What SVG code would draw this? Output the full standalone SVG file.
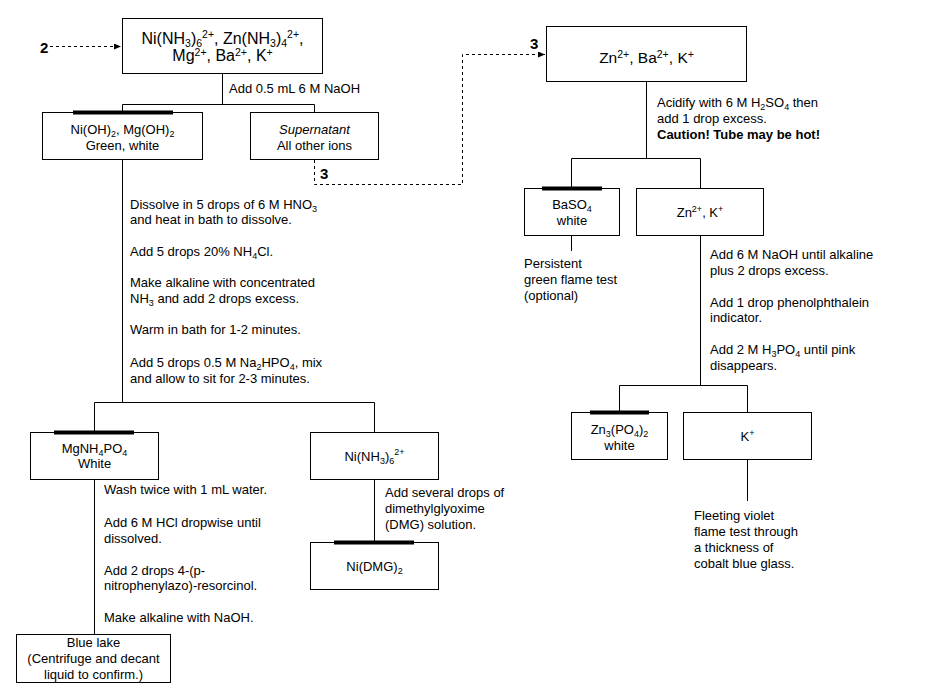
<svg xmlns="http://www.w3.org/2000/svg" width="939" height="699" viewBox="0 0 939 699">
<style>
text{font-family:"Liberation Sans",Arial,sans-serif;font-size:13px;fill:#000}
.big{font-size:16px}
.big2{font-size:15.5px}
.m{text-anchor:middle}
.s{font-size:9px}
.bs{font-size:10.5px}
.lbl{font-size:15px;font-weight:bold}
.box{fill:#fff;stroke:#000;stroke-width:1}
.bar{fill:#000}
.ln{fill:none;stroke:#000;stroke-width:1}
.dash{fill:none;stroke:#000;stroke-width:1;stroke-dasharray:3,3}
</style>
<defs>
<marker id="ah" markerWidth="7" markerHeight="6" refX="7" refY="3" orient="auto" markerUnits="userSpaceOnUse">
<path d="M0,0 L7,3 L0,6 z" fill="#000"/>
</marker>
</defs>
<rect width="939" height="699" fill="#fff"/>

<g id="connectors">
<path class="dash" d="M50,46.5 H121" marker-end="url(#ah)"/>
<path class="dash" d="M314.5,160 V184.5 H462.5 V54.5 H545" marker-end="url(#ah)"/>
<path class="ln" d="M222.5,74 V104.5 M122.5,112 V104.5 H314.5 V112"/>
<path class="ln" d="M122.5,160 V402.5 M94.5,432 V402.5 H374.5 V432"/>
<path class="ln" d="M94.5,479 V634"/>
<path class="ln" d="M374.5,479 V542"/>
<path class="ln" d="M646.5,82 V158.5 M571.5,188 V158.5 H700.5 V188"/>
<path class="ln" d="M571.5,236 V251"/>
<path class="ln" d="M700.5,236 V385.5 M619.5,412 V385.5 H747.5 V412"/>
<path class="ln" d="M747.5,460 V501"/>
</g>

<g id="label-2"><text x="40" y="52.5" class="lbl">2</text></g>
<g id="label-3a"><text x="320" y="179" class="lbl">3</text></g>
<g id="label-3b"><text x="530" y="49" class="lbl">3</text></g>

<g id="n-start">
<rect class="box" x="122.5" y="18.5" width="200" height="55"/>
<text x="222.5" y="44" class="big m">Ni(NH<tspan class="bs" dy="3">3</tspan><tspan dy="-3">)</tspan><tspan class="bs" dy="3">6</tspan><tspan class="bs" dy="-9">2+</tspan><tspan dy="6">, Zn(NH</tspan><tspan class="bs" dy="3">3</tspan><tspan dy="-3">)</tspan><tspan class="bs" dy="3">4</tspan><tspan class="bs" dy="-9">2+</tspan><tspan dy="6">,</tspan></text>
<text x="222.5" y="61" class="big m">Mg<tspan class="bs" dy="-5">2+</tspan><tspan dy="5">, Ba</tspan><tspan class="bs" dy="-5">2+</tspan><tspan dy="5">, K</tspan><tspan class="bs" dy="-5">+</tspan></text>
</g>
<text x="229" y="93">Add 0.5 mL 6 M NaOH</text>

<g id="n-hydroxides">
<rect class="box" x="42.5" y="112.5" width="160" height="47"/>
<rect class="bar" x="73" y="110.5" width="100" height="4"/>
<text x="122.5" y="134" class="m">Ni(OH)<tspan class="s" dy="3">2</tspan><tspan dy="-3">, Mg(OH)</tspan><tspan class="s" dy="3">2</tspan></text>
<text x="122.5" y="150" class="m">Green, white</text>
</g>

<g id="n-supernatant">
<rect class="box" x="250.5" y="112.5" width="128" height="47"/>
<text x="314.5" y="134" class="m" font-style="italic">Supernatant</text>
<text x="314.5" y="150" class="m">All other ions</text>
</g>

<g id="steps-left">
<text x="130" y="209">Dissolve in 5 drops of 6 M HNO<tspan class="s" dy="3">3</tspan></text>
<text x="130" y="224">and heat in bath to dissolve.</text>
<text x="130" y="256">Add 5 drops 20% NH<tspan class="s" dy="3">4</tspan><tspan dy="-3">Cl.</tspan></text>
<text x="130" y="287">Make alkaline with concentrated</text>
<text x="130" y="303">NH<tspan class="s" dy="3">3</tspan><tspan dy="-3"> and add 2 drops excess.</tspan></text>
<text x="130" y="334">Warm in bath for 1-2 minutes.</text>
<text x="130" y="367">Add 5 drops 0.5 M Na<tspan class="s" dy="3">2</tspan><tspan dy="-3">HPO</tspan><tspan class="s" dy="3">4</tspan><tspan dy="-3">, mix</tspan></text>
<text x="130" y="383">and allow to sit for 2-3 minutes.</text>
</g>

<g id="n-mgnh4po4">
<rect class="box" x="30.5" y="432.5" width="128" height="47"/>
<rect class="bar" x="54" y="430.5" width="80" height="4"/>
<text x="94.5" y="453" class="m">MgNH<tspan class="s" dy="3">4</tspan><tspan dy="-3">PO</tspan><tspan class="s" dy="3">4</tspan></text>
<text x="94.5" y="468" class="m">White</text>
</g>

<g id="steps-mg">
<text x="104" y="494">Wash twice with 1 mL water.</text>
<text x="104" y="526.5">Add 6 M HCl dropwise until</text>
<text x="104" y="542.5">dissolved.</text>
<text x="104" y="575">Add 2 drops 4-(p-</text>
<text x="104" y="590">nitrophenylazo)-resorcinol.</text>
<text x="104" y="622">Make alkaline with NaOH.</text>
</g>

<g id="n-bluelake">
<rect class="box" x="16.5" y="634.5" width="154" height="48"/>
<text x="93.5" y="646.5" class="m">Blue lake</text>
<text x="93.5" y="662.5" class="m">(Centrifuge and decant</text>
<text x="93.5" y="678.5" class="m">liquid to confirm.)</text>
</g>

<g id="n-ninh3">
<rect class="box" x="310.5" y="432.5" width="128" height="47"/>
<text x="374.5" y="460.5" class="m">Ni(NH<tspan class="s" dy="3">3</tspan><tspan dy="-3">)</tspan><tspan class="s" dy="3">6</tspan><tspan class="s" dy="-9">2+</tspan></text>
</g>

<g id="steps-ni">
<text x="385" y="497">Add several drops of</text>
<text x="385" y="513">dimethylglyoxime</text>
<text x="385" y="529">(DMG) solution.</text>
</g>

<g id="n-nidmg">
<rect class="box" x="310.5" y="542.5" width="128" height="47"/>
<rect class="bar" x="334" y="540.5" width="80" height="4"/>
<text x="374.5" y="571" class="m">Ni(DMG)<tspan class="s" dy="3">2</tspan></text>
</g>

<g id="n-znbak">
<rect class="box" x="546.5" y="26.5" width="200" height="55"/>
<text x="646.5" y="62.5" class="big2 m">Zn<tspan class="bs" dy="-5">2+</tspan><tspan dy="5">, Ba</tspan><tspan class="bs" dy="-5">2+</tspan><tspan dy="5">, K</tspan><tspan class="bs" dy="-5">+</tspan></text>
</g>

<g id="steps-acid">
<text x="657" y="107">Acidify with 6 M H<tspan class="s" dy="3">2</tspan><tspan dy="-3">SO</tspan><tspan class="s" dy="3">4</tspan><tspan dy="-3"> then</tspan></text>
<text x="657" y="123">add 1 drop excess.</text>
<text x="657" y="139" font-weight="bold">Caution! Tube may be hot!</text>
</g>

<g id="n-baso4">
<rect class="box" x="524.5" y="188.5" width="95" height="47"/>
<rect class="bar" x="542" y="186.5" width="60" height="4"/>
<text x="572" y="209" class="m">BaSO<tspan class="s" dy="3">4</tspan></text>
<text x="572" y="225" class="m">white</text>
</g>

<g id="steps-ba">
<text x="524" y="268">Persistent</text>
<text x="524" y="284">green flame test</text>
<text x="524" y="300">(optional)</text>
</g>

<g id="n-znk">
<rect class="box" x="636.5" y="188.5" width="127" height="47"/>
<text x="700" y="217" class="m">Zn<tspan class="s" dy="-5">2+</tspan><tspan dy="5">, K</tspan><tspan class="s" dy="-5">+</tspan></text>
</g>

<g id="steps-zn">
<text x="710" y="259">Add 6 M NaOH until alkaline</text>
<text x="710" y="275">plus 2 drops excess.</text>
<text x="710" y="306.5">Add 1 drop phenolphthalein</text>
<text x="710" y="322">indicator.</text>
<text x="710" y="354">Add 2 M H<tspan class="s" dy="3">3</tspan><tspan dy="-3">PO</tspan><tspan class="s" dy="3">4</tspan><tspan dy="-3"> until pink</tspan></text>
<text x="710" y="370">disappears.</text>
</g>

<g id="n-zn3po4">
<rect class="box" x="571.5" y="412.5" width="96" height="47"/>
<rect class="bar" x="590" y="410.5" width="59" height="4"/>
<text x="619.5" y="434" class="m">Zn<tspan class="s" dy="3">3</tspan><tspan dy="-3">(PO</tspan><tspan class="s" dy="3">4</tspan><tspan dy="-3">)</tspan><tspan class="s" dy="3">2</tspan></text>
<text x="619.5" y="449.5" class="m">white</text>
</g>

<g id="n-k">
<rect class="box" x="683.5" y="412.5" width="128" height="47"/>
<text x="747.5" y="441" class="m">K<tspan class="s" dy="-5">+</tspan></text>
</g>

<g id="steps-k">
<text x="694" y="520">Fleeting violet</text>
<text x="694" y="536">flame test through</text>
<text x="694" y="551.5">a thickness of</text>
<text x="694" y="567.5">cobalt blue glass.</text>
</g>
</svg>
